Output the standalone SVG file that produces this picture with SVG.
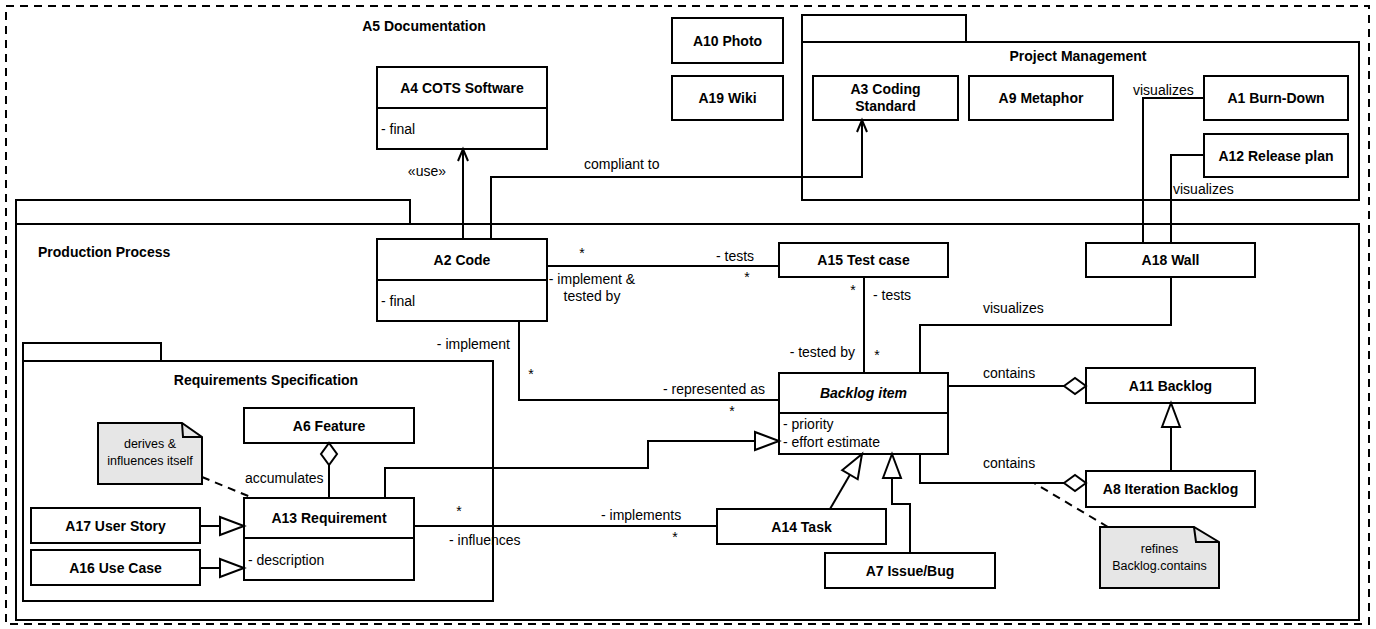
<svg xmlns="http://www.w3.org/2000/svg" width="1376" height="629" viewBox="0 0 1376 629">
<style>
.box{fill:#fff;stroke:#000;stroke-width:2}
.pkg{fill:none;stroke:#000;stroke-width:2}
.note{fill:#e6e6e6;stroke:#000;stroke-width:2}
.c{fill:none;stroke:#000;stroke-width:2}
.d{fill:none;stroke:#000;stroke-width:2;stroke-dasharray:8,6}
text{font-family:"Liberation Sans",Arial,sans-serif;font-size:14px;fill:#000}
.n{font-weight:bold;text-anchor:middle}
.i{font-style:italic}
.m{text-anchor:middle}
.e{text-anchor:end}
.s{font-size:12.5px;text-anchor:middle}
</style>
<defs>
<marker id="arrow" markerUnits="userSpaceOnUse" markerWidth="14" markerHeight="12" refX="12" refY="5" orient="auto" overflow="visible"><path d="M0,0 L12,5 L0,10" fill="none" stroke="#000" stroke-width="2"/></marker>
<marker id="tri" markerUnits="userSpaceOnUse" markerWidth="26" markerHeight="20" refX="24" refY="9" orient="auto" overflow="visible"><path d="M0,0 L24,9 L0,18 Z" fill="#fff" stroke="#000" stroke-width="2"/></marker>
<marker id="dia" markerUnits="userSpaceOnUse" markerWidth="24" markerHeight="18" refX="22" refY="8" orient="auto" overflow="visible"><path d="M0,8 L11,0 L22,8 L11,16 Z" fill="#fff" stroke="#000" stroke-width="2"/></marker>
</defs>
<rect x="6" y="6" width="1363" height="618" class="d"/>
<text x="424" y="31" class="n">A5 Documentation</text>
<g id="pkg-project-management">
<rect x="802" y="15" width="164" height="27" class="pkg"/>
<rect x="802" y="42" width="557" height="158" class="pkg"/>
<text x="1078" y="61" class="n">Project Management</text>
</g>
<g id="pkg-production-process">
<rect x="16" y="200" width="394" height="24" class="pkg"/>
<rect x="16" y="224" width="1343" height="396" class="pkg"/>
<text x="38" y="257" font-weight="bold">Production Process</text>
</g>
<g id="pkg-requirements">
<rect x="23" y="343" width="138" height="18" class="pkg"/>
<rect x="23" y="361" width="470" height="240" class="pkg"/>
<text x="266" y="385" class="n">Requirements Specification</text>
</g>
<g id="A4"><rect x="377" y="67" width="170" height="82" class="box"/><line x1="377" y1="108" x2="547" y2="108" class="c"/><text x="462" y="93" class="n">A4 COTS Software</text><text x="381" y="134">- final</text></g>
<g id="A10"><rect x="672" y="18" width="111" height="45" class="box"/><text x="727.5" y="46" class="n">A10 Photo</text></g>
<g id="A19"><rect x="672" y="76" width="111" height="44" class="box"/><text x="727.5" y="103" class="n">A19 Wiki</text></g>
<g id="A3"><rect x="813" y="76" width="145" height="44" class="box"/><text x="885.5" y="94" class="n">A3 Coding</text><text x="885.5" y="111" class="n">Standard</text></g>
<g id="A9"><rect x="969" y="76" width="144" height="44" class="box"/><text x="1041" y="103" class="n">A9 Metaphor</text></g>
<g id="A1"><rect x="1204" y="76" width="144" height="44" class="box"/><text x="1276" y="103" class="n">A1 Burn-Down</text></g>
<g id="A12"><rect x="1204" y="134" width="144" height="43" class="box"/><text x="1276" y="161" class="n">A12 Release plan</text></g>
<g id="A2"><rect x="377" y="239" width="170" height="82" class="box"/><line x1="377" y1="280" x2="547" y2="280" class="c"/><text x="462" y="265" class="n">A2 Code</text><text x="381" y="306">- final</text></g>
<g id="A15"><rect x="779" y="243" width="169" height="34" class="box"/><text x="863.5" y="265" class="n">A15 Test case</text></g>
<g id="A18"><rect x="1086" y="243" width="169" height="34" class="box"/><text x="1170.5" y="265" class="n">A18 Wall</text></g>
<g id="backlog-item"><rect x="779" y="373" width="169" height="81" class="box"/><line x1="779" y1="413" x2="948" y2="413" class="c"/><text x="863.5" y="398" class="n i">Backlog item</text><text x="783" y="429">- priority</text><text x="783" y="447">- effort estimate</text></g>
<g id="A11"><rect x="1086" y="368" width="169" height="35" class="box"/><text x="1170.5" y="391" class="n">A11 Backlog</text></g>
<g id="A8"><rect x="1086" y="471" width="169" height="36" class="box"/><text x="1170.5" y="494" class="n">A8 Iteration Backlog</text></g>
<g id="A14"><rect x="717" y="509" width="169" height="35" class="box"/><text x="801.5" y="532" class="n">A14 Task</text></g>
<g id="A7"><rect x="825" y="553" width="170" height="35" class="box"/><text x="910" y="576" class="n">A7 Issue/Bug</text></g>
<g id="A6"><rect x="244" y="408" width="170" height="35" class="box"/><text x="329" y="431" class="n">A6 Feature</text></g>
<g id="A13"><rect x="244" y="498" width="170" height="82" class="box"/><line x1="244" y1="538" x2="414" y2="538" class="c"/><text x="329" y="523" class="n">A13 Requirement</text><text x="248" y="565">- description</text></g>
<g id="A17"><rect x="31" y="508" width="169" height="35" class="box"/><text x="115.5" y="531" class="n">A17 User Story</text></g>
<g id="A16"><rect x="31" y="550" width="169" height="35" class="box"/><text x="115.5" y="573" class="n">A16 Use Case</text></g>
<g id="note-derives"><path d="M98,423 L182,423 L202,437 L202,484 L98,484 Z" class="note"/><path d="M182,423 L183,437 L202,437" class="c" stroke-width="1.5"/><text x="150" y="448" class="s">derives &amp;</text><text x="150" y="465" class="s">influences itself</text></g>
<g id="note-refines"><path d="M1100,527 L1194,527 L1219,542 L1219,588 L1100,588 Z" class="note"/><path d="M1194,527 L1196,542 L1219,542" class="c" stroke-width="1.5"/><text x="1159.5" y="553" class="s">refines</text><text x="1159.5" y="570" class="s">Backlog.contains</text></g>
<g id="connectors">
<path d="M463,239 L463,149" class="c" marker-end="url(#arrow)"/>
<text x="446" y="176" class="e">«use»</text>
<path d="M491,239 L491,177 L862,177 L862,120" class="c" marker-end="url(#arrow)"/>
<text x="584" y="169">compliant to</text>
<path d="M1204,98 L1143,98 L1143,243" class="c"/>
<text x="1133" y="95">visualizes</text>
<path d="M1204,155 L1171,155 L1171,243" class="c"/>
<text x="1173" y="194">visualizes</text>
<path d="M547,266 L779,266" class="c"/>
<text x="582" y="258" class="m">*</text>
<text x="592" y="284" class="m">- implement &amp;</text>
<text x="592" y="301" class="m">tested by</text>
<text x="716" y="261">- tests</text>
<text x="747" y="282" class="m">*</text>
<path d="M864,277 L864,373" class="c"/>
<text x="853" y="295" class="m">*</text>
<text x="873" y="300">- tests</text>
<text x="855" y="357" class="e">- tested by</text>
<text x="877" y="360" class="m">*</text>
<path d="M519,321 L519,400 L779,400" class="c"/>
<text x="510" y="349" class="e">- implement</text>
<text x="531" y="379" class="m">*</text>
<text x="765" y="394" class="e">- represented as</text>
<text x="732" y="416" class="m">*</text>
<path d="M1171,277 L1171,325 L920,325 L920,373" class="c"/>
<text x="983" y="313">visualizes</text>
<path d="M948,386 L1086,386" class="c" marker-end="url(#dia)"/>
<text x="983" y="378">contains</text>
<path d="M920,454 L920,483 L1086,483" class="c" marker-end="url(#dia)"/>
<text x="983" y="468">contains</text>
<path d="M1171,471 L1171,403" class="c" marker-end="url(#tri)"/>
<path d="M385,498 L385,468 L648,468 L648,441 L779,441" class="c" marker-end="url(#tri)"/>
<path d="M414,526 L717,526" class="c"/>
<text x="459" y="516" class="m">*</text>
<text x="449" y="545">- influences</text>
<text x="601" y="520">- implements</text>
<text x="675" y="542" class="m">*</text>
<path d="M830,509 L862,454" class="c" marker-end="url(#tri)"/>
<path d="M910,553 L910,504 L892,504 L892,454" class="c" marker-end="url(#tri)"/>
<path d="M200,526 L244,526" class="c" marker-end="url(#tri)"/>
<path d="M200,568 L244,568" class="c" marker-end="url(#tri)"/>
<path d="M329,498 L329,443" class="c" marker-end="url(#dia)"/>
<text x="245" y="483">accumulates</text>
<path d="M202,477 L253,498" class="d"/>
<path d="M1108,527 L1034,483" class="d"/>
</g>
</svg>
